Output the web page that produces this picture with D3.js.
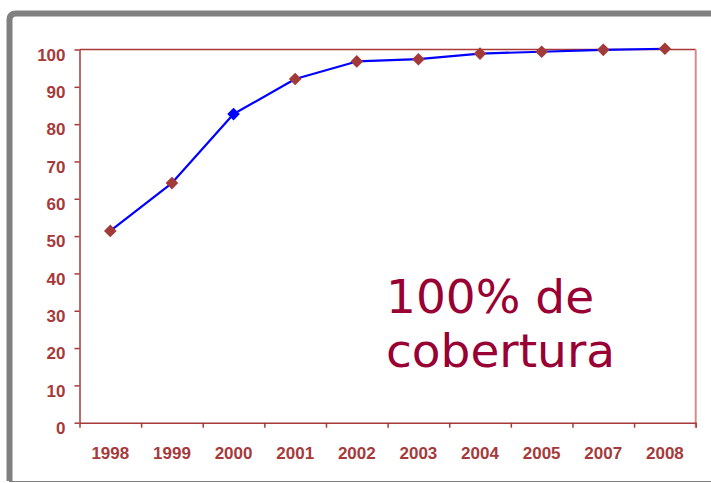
<!DOCTYPE html>
<html><head><meta charset="utf-8">
<script src="https://cdn.jsdelivr.net/npm/d3@7"></script>
<style>html,body{margin:0;padding:0;background:#fff;}svg{display:block;}</style>
</head><body>
<svg id="c" width="711" height="483"></svg>
<script>
const years = ["1998","1999","2000","2001","2002","2003","2004","2005","2007","2008"];
const coverage = [51.4, 64.2, 82.7, 92.1, 96.8, 97.4, 98.9, 99.4, 99.9, 100.2];
const yTicks = [0,10,20,30,40,50,60,70,80,90,100];
const highlightYear = "2000";
const noteLines = ["100% de", "cobertura"];

const svg = d3.select("#c");
const axisColor = "#a63a3a";
const L = 79.5, R = 695.7, T = 49.5, B = 422.7;

// frame
svg.append("path")
  .attr("d", `M9.5,481 L9.5,20 Q9.5,13.5 16,13.5 L720,13.5`)
  .attr("fill","none").attr("stroke","#808080").attr("stroke-width",6);
svg.append("line").attr("x1",9).attr("x2",711).attr("y1",481.5).attr("y2",481.5)
  .attr("stroke","#808080").attr("stroke-width",1.2);

const x = d3.scaleBand().domain(years).range([L, R]).padding(0);
const xb = d3.scaleLinear().domain([0, years.length]).range([L, R]);
const y = d3.scaleLinear().domain([0,100]).range([B, T]);

// plot frame top & right
svg.append("line").attr("x1",L).attr("x2",R).attr("y1",y(100)).attr("y2",y(100))
  .attr("stroke",axisColor).attr("stroke-width",1.5);
svg.append("line").attr("x1",R).attr("x2",R).attr("y1",y(100)).attr("y2",B+5)
  .attr("stroke","#d48c8c").attr("stroke-width",2);

// y axis
const ya = svg.append("g").attr("transform",`translate(${L},0)`)
  .call(d3.axisLeft(y).tickValues(yTicks).tickSize(5).tickPadding(9).tickSizeOuter(0));
ya.select(".domain").attr("stroke",axisColor).attr("stroke-width",1.5);
ya.selectAll(".tick line").attr("stroke",axisColor).attr("stroke-width",1.5);
ya.selectAll(".tick text").attr("fill",axisColor)
  .attr("font-family","'Liberation Sans', Arial, sans-serif").attr("font-weight","bold")
  .attr("font-size",17).attr("dy","0.72em").attr("y",-1.5);

// x axis boundary ticks
const xa = svg.append("g").attr("transform",`translate(0,${B})`)
  .call(d3.axisBottom(xb).tickValues(d3.range(0, years.length+1)).tickSize(5).tickFormat("").tickSizeOuter(0));
xa.select(".domain").attr("stroke",axisColor).attr("stroke-width",1.5);
xa.selectAll(".tick line").attr("stroke",axisColor).attr("stroke-width",1.5);

// x labels
const xl = svg.append("g").attr("transform",`translate(0,${B})`)
  .call(d3.axisBottom(x).tickSize(0).tickPadding(24));
xl.select(".domain").remove();
xl.selectAll(".tick text").attr("fill",axisColor)
  .attr("font-family","'Liberation Sans', Arial, sans-serif").attr("font-weight","bold")
  .attr("font-size",17);

// line
const cx = d => x(d) + x.bandwidth()/2;
const line = d3.line().x((d,i)=>cx(years[i])).y(d=>y(d));
svg.append("path").datum(coverage).attr("d",line)
  .attr("fill","none").attr("stroke","#0000ff").attr("stroke-width",2.2).attr("stroke-linejoin","round");

// markers
const sym = d3.symbol().type(d3.symbolSquare).size(80);
svg.selectAll(".m").data(coverage).enter().append("path")
  .attr("d", sym)
  .attr("transform",(d,i)=>`translate(${cx(years[i])},${y(d)}) rotate(45)`)
  .attr("fill",(d,i)=> years[i]===highlightYear ? "#0000ff" : "#a33a3a");

// annotation
const t = svg.append("text").attr("fill","#990033")
  .attr("font-family","'DejaVu Sans', Verdana, sans-serif").attr("font-size",47);
noteLines.forEach((s,i)=>{
  t.append("tspan").attr("x",386).attr("y",313 + i*54).text(s);
});
</script>
</body></html>
